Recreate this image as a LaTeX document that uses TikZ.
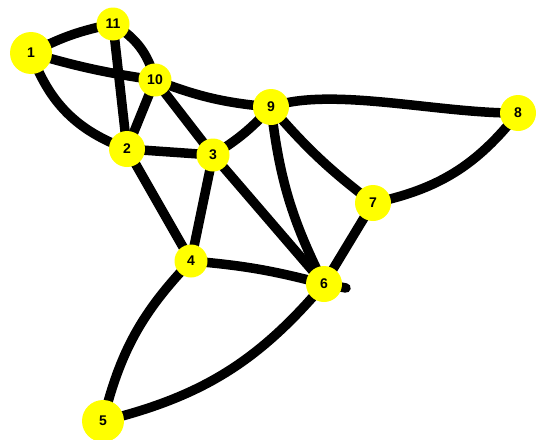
\documentclass[tikz,border=0pt]{standalone}
\usepackage{fontspec}
\setmainfont{Liberation Sans}
\usepackage{xcolor}
\definecolor{vtxyellow}{HTML}{FFFF00}
\usetikzlibrary{backgrounds}

\begin{document}
\begin{tikzpicture}[
    x=1pt, y=-1pt,
    every node/.style={font=\bfseries\fontsize{14}{14}\selectfont},
    vtx/.style={circle, fill=vtxyellow, inner sep=0pt, text=black},
    vsmall/.style={vtx, minimum size=33pt},
    vmid/.style={vtx, minimum size=36pt},
    vbig/.style={vtx, minimum size=42pt},
    edge/.style={draw=black, line width=9.5pt, line cap=round},
]
\useasboundingbox (0,0) rectangle (537,439);

% --- Vertices (pixel positions of the sketch) ---
\node[vbig]   (n1)  at (31, 53)  {1};
\node[vsmall] (n11) at (113, 24) {11};
\node[vsmall] (n10) at (155, 80) {10};
\node[vmid]   (n9)  at (271,107) {9};
\node[vmid]   (n8)  at (518,113) {8};
\node[vmid]   (n2)  at (127,149) {2};
\node[vsmall] (n3)  at (213,155) {3};
\node[vmid]   (n7)  at (373,203) {7};
\node[vsmall] (n4)  at (191,261) {4};
\node[vmid]   (n6)  at (324,284) {6};
\node[vbig]   (n5)  at (103,421) {5};

\coordinate (tail6) at (346,288);    % little stub right of 6

% --- Edges, behind the vertices ---
\begin{scope}[on background layer]
  \draw[edge] (n1.center) to[bend left=8] (n11.center);
  \draw[edge] (n1.center) to[bend right=4] (n10.center);
  \draw[edge] (n1.center) to[bend right=25] (n2.center);
  \draw[edge] (n11.center) -- (n2.center);
  \draw[edge] (n11.center) to[bend left=22] (n10.center);
  \draw[edge] (n10.center) -- (n2.center);
  \draw[edge] (n10.center) to[bend right=8] (n9.center);
  \draw[edge] (n10.center) -- (n3.center);
  \draw[edge] (n2.center) -- (n3.center);
  \draw[edge] (n2.center) -- (n4.center);
  \draw[edge] (n3.center) to[bend right=8] (n9.center);
  \draw[edge] (n3.center) -- (n4.center);
  \draw[edge] (n3.center) -- (n6.center);
  \draw[edge] (n9.center) .. controls (330,86) and (440,114) .. (n8.center);
  \draw[edge] (n9.center) to[bend right=10] (n6.center);
  \draw[edge] (n9.center) to[bend right=6] (n7.center);
  \draw[edge] (n8.center) to[bend left=20] (n7.center);
  \draw[edge] (n7.center) -- (n6.center);
  \draw[edge] (n4.center) to[bend left=5] (n6.center);
  \draw[edge] (n4.center) to[bend right=15] (n5.center);
  \draw[edge] (n5.center) to[bend right=18] (n6.center);
  \draw[edge] (n6.center) -- (tail6);
\end{scope}
\end{tikzpicture}
\end{document}
